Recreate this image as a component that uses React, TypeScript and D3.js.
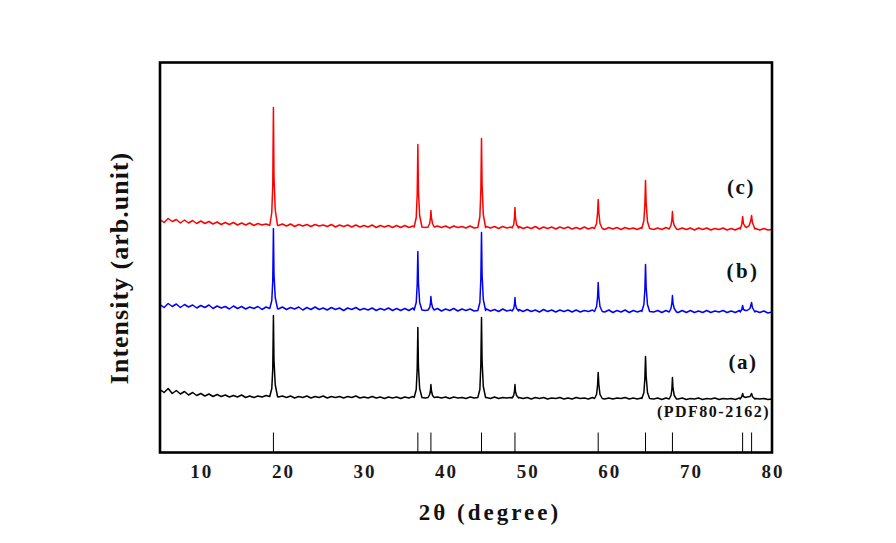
import React from "react";
import * as d3 from "d3";

// ---------- data ----------
const X_TICKS = [10, 20, 30, 40, 50, 60, 70, 80];
const PDF_LINES = [18.9, 36.6, 38.2, 44.4, 48.5, 58.7, 64.5, 67.8, 76.4, 77.5];
const PDF_HEIGHT = 20;
const BASE_START = 5;
const BASE_STEP = 0.5;

// (a) black baseline, 5..80 step 0.5
const baseA = [
  63, 60, 64, 59, 62, 58.5, 61, 57.5, 60, 57,
  59, 56.5, 58.5, 56, 58, 56, 57.5, 55.5, 57, 55.5,
  57.5, 55, 56.5, 55, 56.5, 55.5, 57, 56, 56, 55.5,
  56.5, 55, 56.5, 54.5, 56, 55, 56.5, 54.5, 56, 55,
  56.5, 54.5, 56, 55, 56, 54.5, 56, 55, 56.5, 54.5,
  55.5, 54.5, 56, 54.5, 55.5, 54, 55.5, 54.5, 55.5, 54,
  55.5, 54.5, 56, 55, 55.5, 54.5, 55.5, 54, 55.5, 54.5,
  55.5, 54, 55.5, 54.5, 55, 54, 55.5, 54.5, 55, 54.5,
  55, 54, 55.5, 54, 55, 54.5, 55, 54, 55, 54,
  55, 53.5, 55, 54, 55, 53.5, 54.5, 54, 55, 53.5,
  54.5, 53.5, 55, 54, 54.5, 53.5, 55, 54, 54.5, 53.5,
  54.5, 53.5, 54.5, 54, 55, 53.5, 54.5, 53.5, 54.5, 54,
  54.5, 53.5, 54.5, 53, 54.5, 53.5, 54, 53.5, 54.5, 53,
  54, 53.5, 54.5, 53, 54, 53.5, 54.5, 53, 54, 53.5,
  54, 53, 54.5, 53.5, 54, 53, 54, 53.5, 54, 53,
  53.5,
];

// (b) blue baseline
const baseB = [
  148, 145, 149, 146, 148.5, 145, 148, 145.5, 147.5, 144.5,
  147, 145, 147.5, 144, 146.5, 144.5, 146, 143.5, 146.5, 144,
  146, 143.5, 145.5, 144, 146, 143, 145.5, 144, 145, 143.5,
  145.5, 143, 145, 143.5, 145.5, 142.5, 145, 143, 145.5, 143,
  144.5, 142.5, 145, 143, 144.5, 142, 144.5, 143, 145, 142.5,
  144, 142.5, 144.5, 142, 144, 142.5, 144.5, 142, 144, 142,
  144, 142, 144.5, 142.5, 144, 142, 143.5, 142, 144, 141.5,
  143.5, 142, 144, 141.5, 143.5, 142, 143.5, 141.5, 143, 141.5,
  143.5, 141.5, 143, 141, 143.5, 141.5, 142.5, 141, 143, 141,
  143, 141, 142.5, 140.5, 143, 141, 142.5, 140.5, 142.5, 141,
  142.5, 140.5, 142.5, 140.5, 142, 141, 142.5, 140.5, 142, 140.5,
  142.5, 140, 142, 140.5, 142.5, 140, 142, 140.5, 142, 140,
  142, 140.5, 142, 140, 142, 140.5, 141.5, 140, 142, 140,
  142, 140, 141.5, 140, 142, 140, 141.5, 140.5, 142, 140,
  141.5, 140, 142, 140, 141.5, 139.5, 141.5, 140, 141.5, 139.5,
  140.5,
];

// (c) red baseline
const baseC = [
  233, 230, 234, 231, 233, 229.5, 232.5, 229.5, 232, 229,
  231.5, 229, 231, 228.5, 230.5, 228, 230, 228, 230, 227.5,
  229.5, 227.5, 229.5, 227, 229, 227.5, 228.5, 227, 228, 227,
  228.5, 226.5, 228.5, 226, 228, 226.5, 228, 226, 228, 226.5,
  227.5, 226, 228, 225.5, 227.5, 226, 227.5, 225.5, 227.5, 225.5,
  227, 225.5, 227.5, 225, 227, 225.5, 227, 225, 227, 225,
  227, 225, 226.5, 225, 227, 225, 226.5, 224.5, 226.5, 225,
  226.5, 224.5, 226.5, 225, 226, 224.5, 226.5, 224.5, 226, 224.5,
  226, 224.5, 226, 224, 226, 224.5, 225.5, 224, 226, 224,
  225.5, 224, 226, 223.5, 225.5, 224, 225.5, 223.5, 225.5, 224,
  225.5, 223.5, 225, 223.5, 225.5, 223.5, 225, 223.5, 225, 223,
  225, 223.5, 225, 223, 225, 223.5, 224.5, 223, 225, 223,
  225, 223, 224.5, 223, 225, 223, 224.5, 223, 224.5, 223,
  224.5, 222.5, 224.5, 223, 224.5, 222.5, 224, 223, 224.5, 222.5,
  224, 222.5, 224.5, 222.5, 224, 222.5, 224, 222.5, 224, 222.5,
  223,
];

// peak profiles: [2theta, intensity]
const peaksA: [number, number][][] = [
  [[18.45, 56], [18.7, 64], [18.82, 84], [18.9, 137], [18.97, 92], [19.12, 68], [19.4, 56]],
  [[36.15, 55], [36.4, 63], [36.52, 84], [36.6, 125], [36.67, 86], [36.82, 64], [37.1, 55]],
  [[37.85, 55], [38.05, 58], [38.15, 62], [38.2, 68], [38.26, 62], [38.4, 57], [38.6, 55]],
  [[43.95, 55], [44.2, 63], [44.32, 88], [44.4, 135], [44.47, 92], [44.62, 66], [44.9, 55]],
  [[48.15, 54.5], [48.35, 57], [48.45, 62], [48.5, 68], [48.56, 61], [48.7, 57], [48.95, 54.5]],
  [[58.25, 54], [58.5, 58], [58.62, 67], [58.7, 80], [58.78, 68], [58.92, 58], [59.2, 54]],
  [[64.05, 54], [64.3, 60], [64.42, 74], [64.5, 96], [64.58, 76], [64.74, 60], [65.0, 54]],
  [[67.4, 53.5], [67.62, 57], [67.74, 64], [67.8, 75], [67.87, 64], [68.02, 57], [68.3, 53.5]],
  [[76.1, 53.5], [76.3, 56], [76.4, 59], [76.5, 56], [76.75, 55], [76.95, 55.5], [77.3, 56], [77.5, 59], [77.6, 56], [77.9, 53.5]],
];

const peaksB: [number, number][][] = [
  [[18.45, 144], [18.7, 152], [18.82, 172], [18.9, 224], [18.97, 178], [19.12, 155], [19.4, 144]],
  [[36.15, 142.5], [36.4, 150], [36.52, 168], [36.6, 201], [36.67, 170], [36.82, 150], [37.1, 142.5]],
  [[37.85, 142.5], [38.05, 145], [38.15, 150], [38.2, 156], [38.26, 150], [38.4, 145], [38.6, 142.5]],
  [[43.95, 142], [44.2, 150], [44.32, 174], [44.4, 220], [44.47, 178], [44.62, 153], [44.9, 142]],
  [[48.15, 141.5], [48.35, 144], [48.45, 149], [48.5, 155], [48.56, 148], [48.7, 144], [48.95, 141.5]],
  [[58.25, 141], [58.5, 146], [58.62, 155], [58.7, 170], [58.78, 156], [58.92, 146], [59.2, 141]],
  [[64.05, 141], [64.3, 148], [64.42, 163], [64.5, 188], [64.58, 165], [64.74, 148], [65.0, 141]],
  [[67.4, 140.5], [67.62, 144], [67.74, 150], [67.8, 157], [67.87, 149], [68.02, 144], [68.3, 140.5]],
  [[76.1, 140.5], [76.3, 143], [76.4, 147], [76.5, 143], [76.75, 142], [76.95, 142], [77.3, 144], [77.5, 150], [77.6, 145], [77.9, 140.5]],
];

const peaksC: [number, number][][] = [
  [[18.45, 227], [18.7, 240], [18.82, 268], [18.9, 345], [18.97, 275], [19.12, 243], [19.4, 227]],
  [[36.15, 225.5], [36.4, 235], [36.52, 258], [36.6, 308], [36.67, 262], [36.82, 237], [37.1, 225.5]],
  [[37.85, 225.5], [38.05, 229], [38.15, 235], [38.2, 242], [38.26, 235], [38.4, 229], [38.6, 225.5]],
  [[43.95, 225], [44.2, 236], [44.32, 262], [44.4, 314], [44.47, 268], [44.62, 238], [44.9, 225]],
  [[48.15, 224.5], [48.35, 228], [48.45, 236], [48.5, 245], [48.56, 235], [48.7, 228], [48.95, 224.5]],
  [[58.25, 224], [58.5, 229], [58.62, 239], [58.7, 253], [58.78, 240], [58.92, 229], [59.2, 224]],
  [[64.05, 224], [64.3, 232], [64.42, 248], [64.5, 272], [64.58, 249], [64.74, 231], [65.0, 224]],
  [[67.4, 223.5], [67.62, 227], [67.74, 233], [67.8, 241], [67.87, 232], [68.02, 227], [68.3, 223.5]],
  [[76.1, 223.5], [76.3, 228], [76.4, 236], [76.5, 229], [76.7, 226], [76.9, 225], [77.2, 227], [77.4, 232], [77.5, 237], [77.6, 230], [77.9, 223.5]],
];

const SERIES = [
  { name: "(a)", color: "#000000", base: baseA, peaks: peaksA },
  { name: "(b)", color: "#0000ff", base: baseB, peaks: peaksB },
  { name: "(c)", color: "#ff0000", base: baseC, peaks: peaksC },
];

// ---------- layout ----------
const W = 896;
const H = 543;
const L = 160;
const R = 772;
const T = 62.5;
const B = 452.5;
const FONT = "'Liberation Serif', 'Times New Roman', serif";

function buildPoints(base: number[], peaks: [number, number][][]): [number, number][] {
  const ranges = peaks.map((g) => [g[0][0], g[g.length - 1][0]]);
  const pts: [number, number][] = [];
  base.forEach((v, i) => {
    const x = BASE_START + i * BASE_STEP;
    if (!ranges.some(([a, b]) => x >= a && x <= b)) pts.push([x, v]);
  });
  peaks.forEach((g) => g.forEach((p) => pts.push(p)));
  pts.sort((p, q) => p[0] - q[0]);
  return pts;
}

export default function App() {
  const x = d3.scaleLinear().domain([5, 80]).range([L, R]);
  const y = d3.scaleLinear().domain([0, 390]).range([B, T]);
  const line = d3
    .line<[number, number]>()
    .x((d) => x(d[0]))
    .y((d) => y(d[1]));

  return (
    <svg
      width={W}
      height={H}
      style={{ position: "absolute", left: 0, top: 0, background: "#fff" }}
      fontFamily={FONT}
    >
      <rect x={0} y={0} width={W} height={H} fill="#fff" />
      <defs>
        <clipPath id="plot">
          <rect x={L} y={T} width={R - L} height={B - T} />
        </clipPath>
      </defs>
      <g clipPath="url(#plot)">
        {SERIES.map((s) => (
          <path
            key={s.name}
            d={line(buildPoints(s.base, s.peaks)) || ""}
            fill="none"
            stroke={s.color}
            strokeWidth={1.5}
            strokeLinejoin="round"
          />
        ))}
        {PDF_LINES.map((p) => (
          <line
            key={p}
            x1={x(p)}
            x2={x(p)}
            y1={y(0)}
            y2={y(PDF_HEIGHT)}
            stroke="#000"
            strokeWidth={1}
          />
        ))}
      </g>
      <rect
        x={L}
        y={T}
        width={R - L}
        height={B - T}
        fill="none"
        stroke="#000"
        strokeWidth={2.6}
      />
      {X_TICKS.map((t) => (
        <text
          key={t}
          x={x(t) + 1}
          y={478}
          textAnchor="middle"
          fontSize={19}
          fontWeight="bold"
          letterSpacing={2}
          fill="#1a1a1a"
        >
          {t}
        </text>
      ))}
      <text
        x={490}
        y={520}
        textAnchor="middle"
        fontSize={23}
        fontWeight="bold"
        letterSpacing={3}
        fill="#111"
      >
        2θ (degree)
      </text>
      <text
        transform="translate(128,268) rotate(-90)"
        textAnchor="middle"
        fontSize={26}
        fontWeight="bold"
        letterSpacing={1}
        fill="#111"
      >
        Intensity (arb.unit)
      </text>
      <text x={741} y={194} textAnchor="middle" fontSize={21} fontWeight="bold" letterSpacing={1.5} fill="#111">
        (c)
      </text>
      <text x={743} y={278} textAnchor="middle" fontSize={21} fontWeight="bold" letterSpacing={2.5} fill="#111">
        (b)
      </text>
      <text x={743} y={369} textAnchor="middle" fontSize={21} fontWeight="bold" letterSpacing={1.5} fill="#111">
        (a)
      </text>
      <text x={770} y={417} textAnchor="end" fontSize={16} fontWeight="bold" letterSpacing={1.5} fill="#111">
        (PDF80-2162)
      </text>
    </svg>
  );
}
